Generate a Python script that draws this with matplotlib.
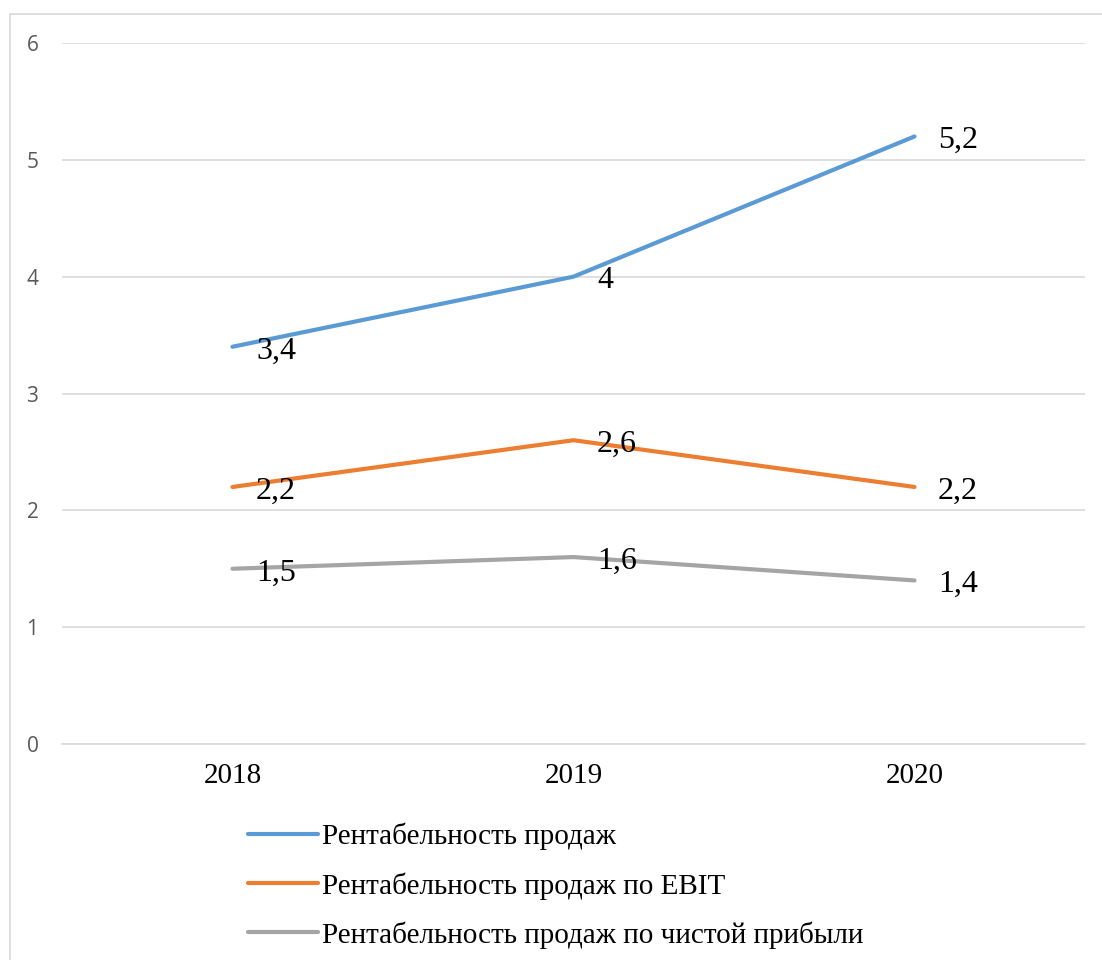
import matplotlib.pyplot as plt
from matplotlib.patches import Rectangle

years = ['2018', '2019', '2020']
sales_margin = [3.4, 4.0, 5.2]
ebit_margin = [2.2, 2.6, 2.2]
net_margin = [1.5, 1.6, 1.4]
series_names = ['Рентабельность продаж',
                'Рентабельность продаж по EBIT',
                'Рентабельность продаж по чистой прибыли']
colors = ['#5B9BD5', '#ED7D31', '#A5A5A5']
y_ticks = [0, 1, 2, 3, 4, 5, 6]

W, H = 1102, 960
fig = plt.figure(figsize=(W / 100, H / 100), dpi=100)
fig.patch.set_facecolor('white')

# chart area frame (only top/left visible in the crop)
fig.patches.append(Rectangle((10 / W, -0.05), 1.2, 1 - 14 / H + 0.05,
                             transform=fig.transFigure, fill=False,
                             edgecolor='#D9D9D9', linewidth=1.2))

ax = fig.add_axes([62 / W, 1 - 744 / H, (1085 - 62) / W, (744 - 43) / H])
x = range(len(years))

for vals, name, c in zip([sales_margin, ebit_margin, net_margin], series_names, colors):
    ax.plot(x, vals, color=c, linewidth=3, label=name, solid_capstyle='round', zorder=3)
    for xi, v in zip(x, vals):
        lbl = f'{v:g}'.replace('.', ',')
        ax.annotate(lbl, (xi, v), xytext=(17, -3), textcoords='offset points',
                    ha='left', va='center', fontsize=23,
                    family='Liberation Serif', color='black', zorder=4)

ax.set_xlim(-0.5, 2.5)
ax.set_ylim(0, 6)
ax.set_yticks(y_ticks)
ax.set_yticklabels([str(t) for t in y_ticks], family='Open Sans', fontsize=15, color='#595959')
ax.set_xticks(list(x))
ax.set_xticklabels(years, family='Liberation Serif', fontsize=21, color='black')
ax.tick_params(axis='y', length=0, pad=17)
ax.tick_params(axis='x', length=0, pad=14)
ax.grid(axis='y', color='#D9D9D9', linewidth=1.2)
ax.set_axisbelow(True)
for s in ax.spines.values():
    s.set_visible(False)
ax.spines['bottom'].set_visible(True)
ax.spines['bottom'].set_color('#D9D9D9')
ax.spines['bottom'].set_linewidth(1.2)

leg = fig.legend(loc='upper left', bbox_to_anchor=(248 / W, 1 - 823 / H),
                 frameon=False, prop={'family': 'Liberation Serif', 'size': 21},
                 handlelength=2.4, handletextpad=0.15, labelspacing=0.74,
                 borderpad=0, borderaxespad=0)

plt.savefig('out.png', dpi=100)
